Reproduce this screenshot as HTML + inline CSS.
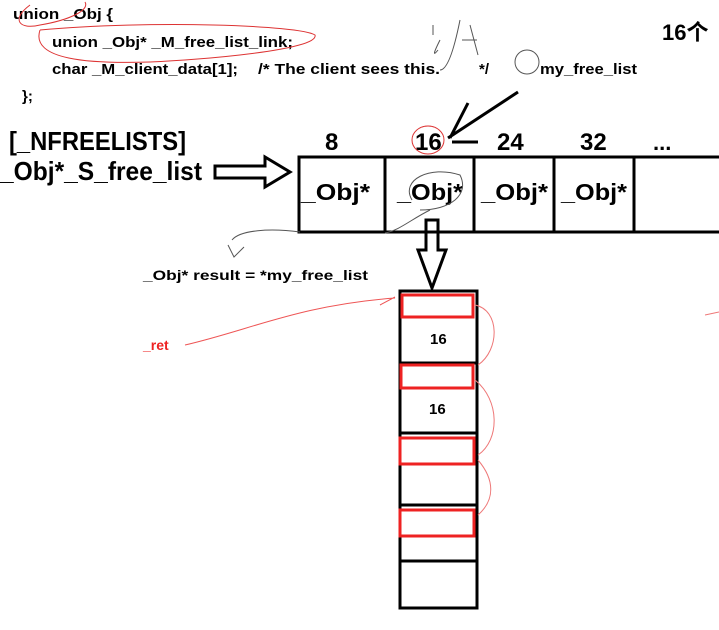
<!DOCTYPE html>
<html><head><meta charset="utf-8"><style>
html,body{margin:0;padding:0;background:#fff;width:719px;height:630px;overflow:hidden}
svg{display:block}
text{font-family:"Liberation Sans","Noto Sans CJK SC",sans-serif;font-weight:bold;fill:#000}
</style></head><body>
<svg width="719" height="630" viewBox="0 0 719 630">
<text x="13" y="19" font-size="15" textLength="100" lengthAdjust="spacingAndGlyphs">union _Obj {</text>
<text x="52" y="47" font-size="15" textLength="241" lengthAdjust="spacingAndGlyphs">union _Obj* _M_free_list_link;</text>
<text x="52" y="74" font-size="15" textLength="186" lengthAdjust="spacingAndGlyphs">char _M_client_data[1];</text>
<text x="258" y="74" font-size="15" textLength="182" lengthAdjust="spacingAndGlyphs">/* The client sees this.</text>
<text x="479" y="74" font-size="15">*/</text>
<text x="540" y="74" font-size="15" textLength="97" lengthAdjust="spacingAndGlyphs">my_free_list</text>
<text x="22" y="101" font-size="15">};</text>
<text x="662" y="40" font-size="22">16个</text>
<path d="M30,5 C10,20 20,30 40,25 C70,20 90,10 85,2" fill="none" stroke="#d33" stroke-width="1"/>
<path d="M40,30 C150,20 300,25 315,35 C320,50 200,60 150,62 C90,64 30,60 40,30" fill="none" stroke="#d33" stroke-width="1"/>
<path d="M433,25 v10 M440,40 q-10,20 -2,10 M460,20 q-10,50 -20,50 M462,40 h15 M470,25 l8,30" fill="none" stroke="#555" stroke-width="1"/>
<circle cx="527" cy="62" r="12" fill="none" stroke="#555"/>
<text x="9" y="150" font-size="26" textLength="177" lengthAdjust="spacingAndGlyphs">[_NFREELISTS]</text>
<text x="0" y="180" font-size="26" textLength="202" lengthAdjust="spacingAndGlyphs">_Obj*_S_free_list</text>
<path d="M215,166 h50 v-9 l25,15 l-25,15 v-9 h-50 z" fill="none" stroke="#000" stroke-width="3"/>
<text x="325" y="150" font-size="24">8</text>
<text x="415" y="150" font-size="24">16</text>
<text x="497" y="150" font-size="24">24</text>
<text x="580" y="150" font-size="24">32</text>
<text x="653" y="150" font-size="22">...</text>
<ellipse cx="428" cy="140" rx="16" ry="14" fill="none" stroke="#d33"/>
<path d="M448,138 l70,-46 M450,138 l18,-35 M452,142 h26" stroke="#000" stroke-width="3" fill="none"/>
<rect x="299" y="157" width="430" height="75" fill="none" stroke="#000" stroke-width="3"/>
<path d="M385,157 v75 M474,157 v75 M554,157 v75 M634,157 v75" stroke="#000" stroke-width="3"/>
<text x="301" y="200" font-size="23" textLength="69" lengthAdjust="spacingAndGlyphs">_Obj*</text>
<text x="397" y="200" font-size="23" textLength="66" lengthAdjust="spacingAndGlyphs">_Obj*</text>
<text x="481" y="200" font-size="23" textLength="67" lengthAdjust="spacingAndGlyphs">_Obj*</text>
<text x="561" y="200" font-size="23" textLength="66" lengthAdjust="spacingAndGlyphs">_Obj*</text>
<path d="M412,200 C400,180 430,165 460,175 C470,195 450,210 420,210 M430,210 C410,220 400,230 385,233 M300,232 C270,228 240,230 232,240 M228,245 l6,12 l10,-10" fill="none" stroke="#555"/>
<path d="M426,220 h12 v30 h8 l-14,38 l-14,-38 h8 z" fill="none" stroke="#000" stroke-width="3"/>
<text x="143" y="280" font-size="14" textLength="225" lengthAdjust="spacingAndGlyphs">_Obj* result = *my_free_list</text>
<text x="143" y="350" font-size="14" style="fill:#e22">_ret</text>
<path d="M185,345 C250,330 300,305 395,298 M380,305 l15,-8" fill="none" stroke="#e55"/>
<rect x="400" y="291" width="77" height="317" fill="none" stroke="#000" stroke-width="3"/>
<path d="M400,363 h77 M400,433 h77 M400,505 h77 M400,561 h77" stroke="#000" stroke-width="3"/>
<rect x="402" y="295" width="71" height="22" fill="none" stroke="#e22" stroke-width="3"/>
<rect x="401" y="365" width="72" height="23" fill="none" stroke="#e22" stroke-width="3"/>
<rect x="400" y="438" width="74" height="26" fill="none" stroke="#e22" stroke-width="3"/>
<rect x="400" y="510" width="74" height="26" fill="none" stroke="#e22" stroke-width="3"/>
<text x="430" y="344" font-size="15">16</text>
<text x="429" y="414" font-size="15">16</text>
<path d="M475,305 C500,310 500,350 478,365 M475,380 C500,400 500,440 478,455 M478,460 C495,480 495,500 478,515" fill="none" stroke="#e77"/>
<path d="M705,315 l14,-3" stroke="#e77"/>
</svg>
</body></html>
